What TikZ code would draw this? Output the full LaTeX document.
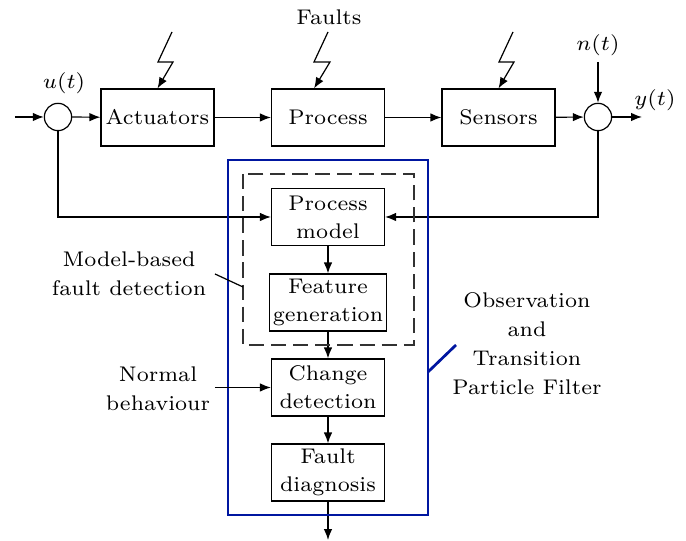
\documentclass[tikz,border=0pt]{standalone}
\usepackage{amsmath}
\usepackage{tikz}
\usetikzlibrary{arrows.meta}
\definecolor{frame}{RGB}{0, 22, 160}
\definecolor{greyline}{RGB}{50, 50, 50}

\begin{document}
\begin{tikzpicture}[x=0.33pt, y=-0.33pt, >={Latex[length=3.6pt, width=2.8pt]},
    font=\fontsize{7}{9.2}\selectfont,
    block/.style={draw, minimum width=37.3pt, minimum height=18.8pt, inner sep=1pt, align=center},
    sum/.style={draw, circle, minimum size=9pt, inner sep=0pt},
    lbl/.style={align=center, font=\fontsize{7}{9.6}\selectfont}]
  \useasboundingbox (0, 0) rectangle (686, 541);

  % main loop
  \node[sum] (su) at (58, 117) {};
  \node[sum] (sy) at (598, 117) {};
  \node[block] (act) at (157.5, 117.5) {Actuators};
  \node[block] (proc) at (328, 117.5) {Process};
  \node[block] (sens) at (498.5, 117.5) {Sensors};
  \coordinate (in) at (15, 117);
  \coordinate (out) at (642, 117);
  \coordinate (ntop) at (598, 62);

  \node (ulab) at (64, 83) {$u(t)$};
  \node (ylab) at (655, 100) {$y(t)$};
  \node (nlab) at (598, 45) {$n(t)$};
  \node (faults) at (329, 17) {Faults};

  \draw[->] (in) -- (su);
  \draw[->] (su) -- (act);
  \draw[->] (act) -- (proc);
  \draw[->] (proc) -- (sens);
  \draw[->] (sens) -- (sy);
  \draw[->] (sy) -- (out);
  \draw[->] (ntop) -- (sy);

  % faults
  \draw[->] (172, 32) -- (158, 62) -- (173, 62) -- (act.north);
  \draw[->] (328, 32) -- (314, 62) -- (330, 62) -- ([xshift=-4.6pt]proc.north);
  \draw[->] (513, 32) -- (499, 62) -- (514, 62) -- (sens.north);

  % diagnosis chain
  \node[block] (model) at (328, 217) {Process\\model};
  \node[block] (feat) at (328, 302.5) {Feature\\generation};
  \node[block] (chg) at (328, 387.5) {Change\\detection};
  \node[block] (diag) at (328, 472.5) {Fault\\diagnosis};
  \coordinate (end) at (328, 540);

  \draw[->] (su) |- (model);
  \draw[->] (sy) |- (model);
  \draw[->] (model) -- (feat);
  \draw[->] (feat) -- (chg);
  \draw[->] (chg) -- (diag);
  \draw[->] (diag) -- (end);

  \draw[greyline, dash pattern=on 5pt off 2.3pt] (243, 174) rectangle (414, 345);
  \draw[frame, line width=0.9pt] (228, 160) rectangle (428, 515);

  % side labels
  \node[lbl] (mbl) at (129, 274) {Model-based\\fault detection};
  \coordinate (mbend) at (215, 274);
  \draw (mbend) -- (243, 287);

  \node[lbl] (nbl) at (158, 389) {Normal\\behaviour};
  \coordinate (nbend) at (215, 387.5);
  \draw[->] (nbend) -- (chg);

  \node[lbl] (pfl) at (527, 344) {Observation\\and\\Transition\\Particle Filter};
  \draw[frame, line width=0.9pt] (428, 372) -- (456, 345);

\end{tikzpicture}
\end{document}
